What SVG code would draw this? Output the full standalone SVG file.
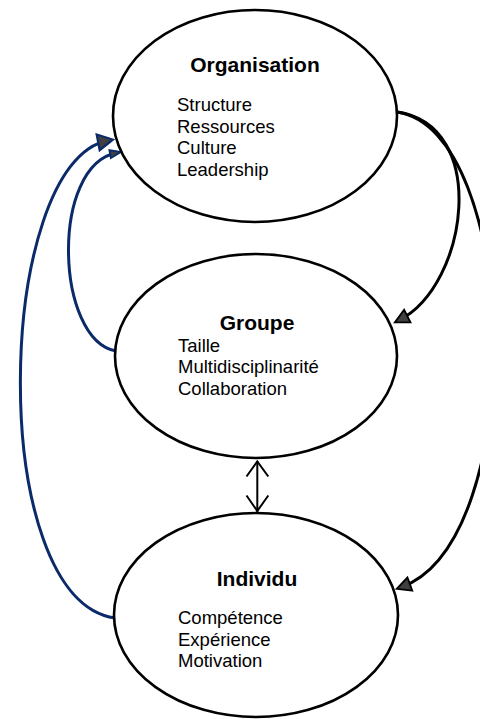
<svg xmlns="http://www.w3.org/2000/svg" width="480" height="719" viewBox="0 0 480 719">
<style>
.node{fill:#fff;stroke:#000;stroke-width:2.6}
.title{font-family:"Liberation Sans",Arial,sans-serif;font-weight:bold;font-size:21px;fill:#000;text-anchor:middle}
.item{font-family:"Liberation Sans",Arial,sans-serif;font-size:18.5px;fill:#000}
.blue{fill:none;stroke:#0b2a6a;stroke-width:3}
.black{fill:none;stroke:#000;stroke-width:3}
.bi{fill:none;stroke:#000;stroke-width:2}
</style>
<defs>
<marker id="bigBlue" markerUnits="userSpaceOnUse" markerWidth="20" markerHeight="22" viewBox="-2 -2 20 22" refX="10" refY="9" orient="auto">
<path d="M0,1 L15,9 L0,17 z" fill="#404040" stroke="#0b2a6a" stroke-width="2.2" stroke-linejoin="miter"/>
</marker>
<marker id="smallBlue" markerUnits="userSpaceOnUse" markerWidth="16" markerHeight="14" viewBox="-2 -2 16 14" refX="7" refY="5" orient="auto">
<path d="M0,1 L11,5 L0,9 z" fill="#404040" stroke="#0b2a6a" stroke-width="1.8"/>
</marker>
<marker id="blackHead" markerUnits="userSpaceOnUse" markerWidth="20" markerHeight="20" viewBox="-2 -2 20 20" refX="9" refY="7" orient="auto">
<path d="M0,0 L14,7 L0,14 z" fill="#404040" stroke="#000" stroke-width="1.8"/>
</marker>
</defs>
<g id="connectors">
<path class="blue" d="M115,618 C-15,600 -5,162 108,140.5" marker-end="url(#bigBlue)"/>
<path class="blue" d="M116,351 C55,340 50,165 117,152.8" marker-end="url(#smallBlue)"/>
<path class="black" d="M397,112 C490,125 468,285 399.3,320.1" marker-end="url(#blackHead)"/>
<path class="black" d="M397,112 C520,130 530,540 401.4,587.2" marker-end="url(#blackHead)"/>
</g>
<g id="organisation">
<ellipse class="node" cx="255" cy="116" rx="142" ry="106"/>
<text class="title" x="255" y="72">Organisation</text>
<text class="item" x="177" y="111">Structure</text>
<text class="item" x="177" y="132.5">Ressources</text>
<text class="item" x="177" y="154">Culture</text>
<text class="item" x="177" y="175.5">Leadership</text>
</g>
<g id="groupe">
<ellipse class="node" cx="256" cy="356" rx="141" ry="102"/>
<text class="title" x="257" y="330">Groupe</text>
<text class="item" x="178" y="351.5">Taille</text>
<text class="item" x="178" y="373">Multidisciplinarité</text>
<text class="item" x="178" y="394.5">Collaboration</text>
</g>
<g id="individu">
<ellipse class="node" cx="256" cy="615" rx="142" ry="102"/>
<text class="title" x="257" y="586">Individu</text>
<text class="item" x="178" y="624">Compétence</text>
<text class="item" x="178" y="645.5">Expérience</text>
<text class="item" x="178" y="667">Motivation</text>
</g>
<g id="bidirectional">
<line class="bi" x1="257.3" y1="461" x2="257.3" y2="512"/>
<path class="bi" d="M246.5,476.5 L257.3,461.5 L268.3,476.5"/>
<path class="bi" d="M246.5,495.5 L257.3,511 L268.3,495.5"/>
</g>
</svg>
